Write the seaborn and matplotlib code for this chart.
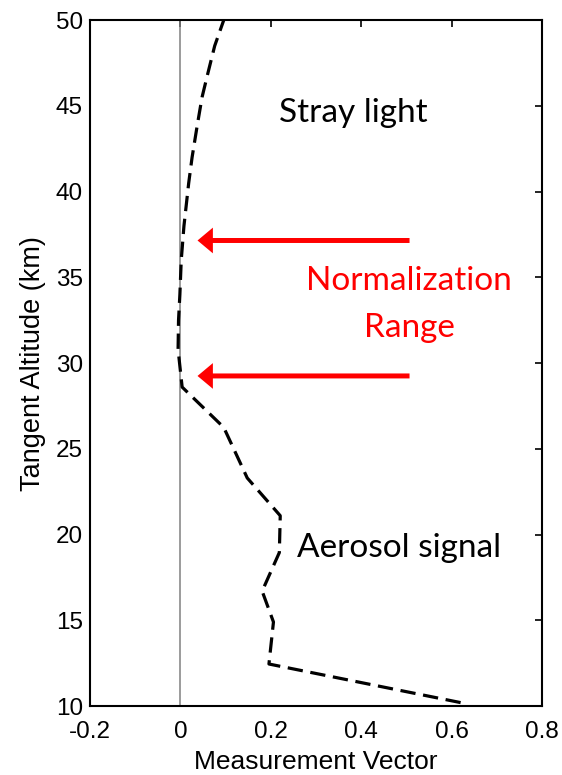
import matplotlib
matplotlib.use("Agg")
import matplotlib.pyplot as plt
import seaborn as sns
import pandas as pd

# Data
altitude = [10.2, 12.45, 14.9, 16.7, 18.95, 21.1, 23.3, 26.25, 28.6, 30.8,
            32.5, 34.0, 36.0, 38.0, 40.5, 42.0, 43.8, 45.5, 46.7, 48.5, 50.0]
meas_vector = [0.62, 0.196, 0.206, 0.181, 0.219, 0.221, 0.148, 0.096, 0.004, -0.005,
               -0.004, -0.001, 0.002, 0.008, 0.0185, 0.026, 0.037, 0.048, 0.059, 0.076, 0.096]

arrow_altitudes = [37.15, 29.25]
arrow_start = 0.507
arrow_end = 0.038

x_ticks = [-0.2, 0, 0.2, 0.4, 0.6, 0.8]
x_ticklabels = ["-0.2", "0", "0.2", "0.4", "0.6", "0.8"]
y_ticks = [10, 15, 20, 25, 30, 35, 40, 45, 50]

df = pd.DataFrame({"vec": meas_vector, "alt": altitude})

sns.set_style("white")
plt.rcParams['font.family'] = ['Liberation Sans', 'DejaVu Sans']
plt.rcParams['text.color'] = 'black'
plt.rcParams['axes.labelcolor'] = 'black'

fig = plt.figure(figsize=(5.62, 7.75), dpi=100)
ax = fig.add_axes([0.160, 0.089, 0.8044, 0.885])

ax.axvline(0, color="#808080", lw=1.1, zorder=1)

sns.lineplot(data=df, x="vec", y="alt", sort=False, estimator=None, ax=ax,
             color="black", lw=2.3, zorder=3)
ax.lines[-1].set_linestyle((0, (4.8, 2.4)))

for a in arrow_altitudes:
    ax.arrow(arrow_start, a, arrow_end - arrow_start, 0, width=0.29,
             head_width=1.5, head_length=0.034, length_includes_head=True,
             color="#ff0000", lw=0, zorder=4)

ax.set_xlim(-0.2, 0.8)
ax.set_ylim(10, 50)
ax.set_xticks(x_ticks)
ax.set_xticklabels(x_ticklabels)
ax.set_yticks(y_ticks)

ax.tick_params(direction="in", length=5, width=1.2, top=True, right=True,
               labelsize=17.5, colors="black")
ax.tick_params(axis="x", pad=11)
ax.tick_params(axis="y", pad=5)
for s in ax.spines.values():
    s.set_color("black")
    s.set_linewidth(1.5)

ax.set_xlabel("Measurement Vector", fontsize=19, labelpad=5, color="black")
ax.set_ylabel("Tangent Altitude (km)", fontsize=19.5, labelpad=7, color="black")

tf = ['Lato', 'DejaVu Sans']
ax.text(0.383, 44.04, "Stray light", fontsize=24, family=tf, ha="center", va="baseline", color="black")
ax.text(0.506, 34.29, "Normalization", fontsize=24, family=tf, ha="center", va="baseline", color="#ff0000")
ax.text(0.506, 31.55, "Range", fontsize=24, family=tf, ha="center", va="baseline", color="#ff0000")
ax.text(0.483, 18.70, "Aerosol signal", fontsize=24, family=tf, ha="center", va="baseline", color="black")

fig.savefig("out.png", dpi=100)
